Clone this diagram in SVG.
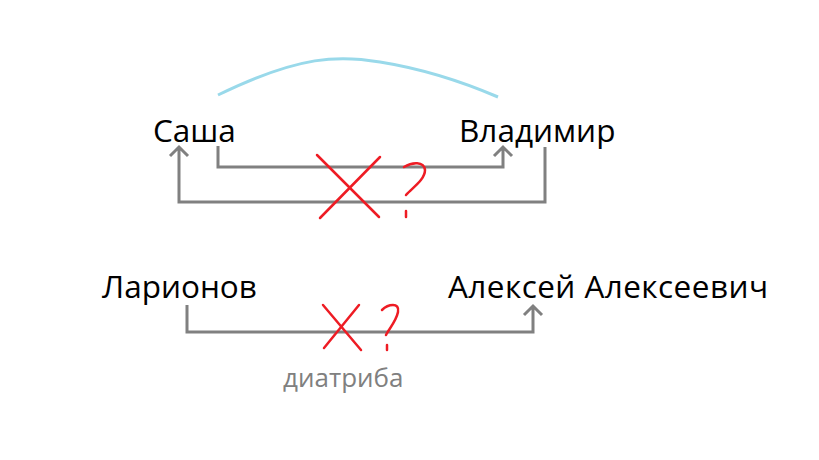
<svg xmlns="http://www.w3.org/2000/svg" width="819" height="460" viewBox="0 0 819 460">
<style>
.t{font-family:"Open Sans","Noto Sans",sans-serif;font-size:31.5px;fill:#000}
.c{fill:none;stroke:#808080;stroke-width:3}
.r{fill:none;stroke:#ee1c24;stroke-width:2.5;stroke-linecap:round}
</style>
<rect width="819" height="460" fill="#fff"/>
<g id="n-sasha"><text class="t" x="153" y="142">Саша</text></g>
<g id="n-vladimir"><text class="t" x="459" y="142">Владимир</text></g>
<g id="n-larionov"><text class="t" x="102" y="298">Ларионов</text></g>
<g id="n-aleksey"><text class="t" x="448" y="298" textLength="320">Алексей Алексеевич</text></g>
<g id="connectors">
<path d="M218,95 C300,55 340,55 380,62 C430,70 470,85 498,97" fill="none" stroke="#99d9ea" stroke-width="3"/>
<path class="c" d="M218,146 V167 H503 V147 M494,156 L503,147 L512,156"/>
<path class="c" d="M545,147 V202 H179 V147 M170,156 L179,147 L188,156"/>
<path class="c" d="M187,305 V332 H533 V306 M524,315 L533,306 L542,315"/>
<path class="r" d="M317,155 L379,217 M380,157 L320,218"/>
<path class="r" d="M404,167 C412,162 424,161 425,170 C425,180 412,188 406,195 M406,211 V217"/>
<path class="r" d="M323,305 L361,350 M359,305 L324,348"/>
<path class="r" d="M382,310 C388,304 400,302 398,312 C396,322 388,330 386,335 M387,345 V350"/>
<text x="283" y="387" style="font-family:'Open Sans','Noto Sans',sans-serif;font-size:26px;fill:#808080">диатриба</text>
</g>
</svg>
